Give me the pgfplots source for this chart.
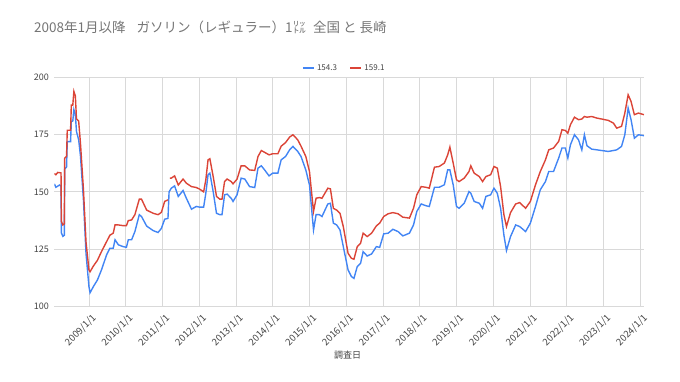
\documentclass[border=0pt]{standalone}
\usepackage{fontspec}
\setmainfont{Noto Sans CJK JP}
\usepackage{pgfplots}
\pgfplotsset{compat=1.18}
\definecolor{gblue}{HTML}{4285F4}
\definecolor{gred}{HTML}{DB4437}
\definecolor{ggrid}{HTML}{D9D9D9}
\definecolor{gtext}{HTML}{444444}
\definecolor{gtitle}{HTML}{757575}
\begin{document}
\begin{tikzpicture}
\path[use as bounding box] (0,0) rectangle (680pt,382pt);
\node[anchor=west, font=\fontsize{13.5}{16}\selectfont, text=gtitle, inner sep=0pt] at (34pt,355pt) {2008年1月以降\hspace{11pt}ガソリン（レギュラー）1㍑\hspace{7pt}全国 と 長崎};
\begin{axis}[
  at={(54.3pt,76pt)}, anchor=south west,
  scale only axis, width=590pt, height=228.3pt,
  xmin=2008.057, xmax=2024.11, ymin=100, ymax=200,
  ytick={100,125,150,175,200},
  xtick={2009,2010,2011,2012,2013,2014,2015,2016,2017,2018,2019,2020,2021,2022,2023,2024},
  xticklabels={2009/1/1,2010/1/1,2011/1/1,2012/1/1,2013/1/1,2014/1/1,2015/1/1,2016/1/1,2017/1/1,2018/1/1,2019/1/1,2020/1/1,2021/1/1,2022/1/1,2023/1/1,2024/1/1},
  axis line style={draw=none},
  major tick length=0pt,
  grid=major, grid style={ggrid, line width=0.8pt},
  tick label style={font=\fontsize{9}{10}\selectfont, text=gtext},
  xticklabel style={font=\fontsize{9.5}{10}\selectfont},
  /pgf/number format/assume math mode=true,
  yticklabel style={xshift=-2pt},
  xticklabel style={xshift=8pt, yshift=-8pt, rotate=45, anchor=east},
  xlabel={調査日},
  xlabel style={font=\fontsize{9}{10}\selectfont, text=gtext, at={(0.497,-0.215)}, anchor=center},
  legend columns=2,
  legend style={at={(0.491,1.042)}, anchor=center, draw=none, fill=none,
    font=\fontsize{8}{10}\selectfont, text=gtext,
    /tikz/every even column/.append style={column sep=10pt}},
  legend image code/.code={\draw[#1, line width=2.5pt] (0pt,0pt) -- (11pt,0pt);},
  unbounded coords=jump,
]
\addplot[gblue, line width=1.4pt] table {
2008.06 153.5
2008.10 152.0
2008.20 153.0
2008.24 152.5
2008.25 132.0
2008.29 130.5
2008.33 131.0
2008.34 160.0
2008.39 160.8
2008.41 172.0
2008.50 172.0
2008.52 180.8
2008.56 181.0
2008.59 186.0
2008.63 183.8
2008.66 176.5
2008.72 172.8
2008.77 165.5
2008.85 146.5
2008.92 123.0
2009.00 108.5
2009.03 105.8
2009.12 108.5
2009.23 111.4
2009.34 115.8
2009.48 122.4
2009.57 125.3
2009.66 125.3
2009.71 129.0
2009.80 126.8
2009.93 126.0
2010.02 125.7
2010.07 129.0
2010.16 129.0
2010.25 132.6
2010.37 140.0
2010.43 139.2
2010.57 135.0
2010.75 133.0
2010.88 132.2
2010.97 134.0
2011.06 138.0
2011.15 138.4
2011.18 150.0
2011.24 151.6
2011.33 152.6
2011.43 148.0
2011.56 150.6
2011.65 147.2
2011.79 142.4
2011.92 143.6
2012.01 143.3
2012.12 143.3
2012.18 149.4
2012.24 157.5
2012.29 158.2
2012.38 150.1
2012.47 140.6
2012.56 140.0
2012.62 140.0
2012.69 148.7
2012.76 149.0
2012.87 147.2
2012.92 145.8
2013.03 148.7
2013.14 156.0
2013.24 155.6
2013.37 152.3
2013.51 151.9
2013.60 160.4
2013.69 161.4
2013.78 159.6
2013.90 157.0
2014.00 158.2
2014.14 158.2
2014.23 164.0
2014.35 165.5
2014.46 168.4
2014.55 169.9
2014.68 167.7
2014.77 165.5
2014.90 159.6
2015.00 153.0
2015.11 133.3
2015.18 140.0
2015.27 140.0
2015.34 139.2
2015.50 144.7
2015.57 145.0
2015.65 136.3
2015.74 135.5
2015.83 133.3
2015.92 126.0
2016.05 115.8
2016.14 112.9
2016.21 112.1
2016.30 117.3
2016.39 118.7
2016.46 123.8
2016.57 121.9
2016.69 122.8
2016.82 126.0
2016.91 125.7
2017.02 131.6
2017.14 131.9
2017.27 133.6
2017.41 132.6
2017.54 130.7
2017.72 131.9
2017.83 135.5
2017.92 141.4
2018.04 144.7
2018.17 143.9
2018.26 143.6
2018.40 152.0
2018.53 152.0
2018.67 153.1
2018.76 159.6
2018.82 159.6
2018.91 153.1
2019.00 143.6
2019.07 142.8
2019.21 145.0
2019.34 150.1
2019.39 149.4
2019.48 145.8
2019.62 145.0
2019.71 142.8
2019.80 148.0
2019.93 148.7
2020.02 151.6
2020.11 149.4
2020.20 142.8
2020.29 131.1
2020.36 124.3
2020.47 130.4
2020.61 135.5
2020.72 134.8
2020.88 132.6
2021.01 136.3
2021.15 143.6
2021.28 150.9
2021.42 154.5
2021.51 158.9
2021.64 158.9
2021.78 164.8
2021.87 169.2
2021.96 169.2
2022.03 164.8
2022.10 170.6
2022.21 175.0
2022.32 172.8
2022.41 168.4
2022.48 175.0
2022.55 170.2
2022.68 168.7
2022.82 168.4
2022.95 168.1
2023.13 167.7
2023.27 168.1
2023.36 168.4
2023.49 169.9
2023.58 175.0
2023.67 186.7
2023.75 181.6
2023.84 173.5
2023.95 175.0
2024.10 174.6
};
\addlegendentry{154.3}
\addplot[gred, line width=1.4pt] table {
2008.06 158.0
2008.10 157.5
2008.15 158.5
2008.24 158.3
2008.25 137.0
2008.29 135.5
2008.33 136.0
2008.34 164.8
2008.39 165.5
2008.41 177.0
2008.50 177.0
2008.52 188.0
2008.56 188.0
2008.59 194.0
2008.63 192.0
2008.66 182.0
2008.72 181.0
2008.77 171.0
2008.85 151.0
2008.92 128.0
2009.00 115.8
2009.03 115.0
2009.12 117.5
2009.23 120.0
2009.34 123.8
2009.48 128.2
2009.57 131.0
2009.66 131.9
2009.71 135.5
2009.80 135.5
2009.93 135.2
2010.02 135.2
2010.07 137.4
2010.16 137.7
2010.25 140.0
2010.37 146.8
2010.43 146.8
2010.57 142.0
2010.75 140.6
2010.88 140.0
2010.97 141.0
2011.06 145.8
2011.15 146.5
2011.17 nan
2011.20 156.0
2011.24 156.0
2011.33 157.0
2011.43 153.0
2011.56 155.6
2011.65 153.8
2011.79 152.3
2011.92 151.9
2012.01 151.2
2012.12 150.0
2012.18 155.3
2012.24 164.0
2012.29 164.5
2012.38 156.7
2012.47 148.0
2012.56 146.8
2012.62 146.8
2012.69 154.5
2012.76 155.6
2012.87 154.5
2012.92 153.5
2013.03 155.6
2013.14 161.4
2013.24 161.4
2013.37 159.6
2013.51 159.4
2013.60 165.5
2013.69 168.1
2013.78 167.3
2013.90 166.2
2014.00 166.7
2014.14 166.7
2014.23 170.0
2014.35 171.6
2014.46 174.0
2014.55 175.0
2014.68 172.8
2014.77 170.0
2014.90 165.5
2015.00 158.9
2015.11 141.4
2015.18 147.2
2015.27 147.5
2015.34 147.2
2015.50 151.6
2015.57 151.3
2015.65 142.8
2015.74 142.0
2015.83 140.6
2015.92 134.8
2016.05 123.1
2016.14 120.9
2016.21 120.5
2016.30 126.0
2016.39 127.5
2016.46 131.9
2016.57 130.4
2016.69 131.9
2016.82 135.1
2016.91 136.3
2017.02 139.2
2017.14 140.4
2017.27 140.9
2017.41 140.4
2017.54 138.9
2017.72 138.5
2017.83 142.8
2017.92 148.7
2018.04 152.3
2018.17 152.0
2018.26 151.6
2018.40 160.8
2018.53 161.1
2018.67 162.6
2018.76 166.2
2018.82 169.6
2018.91 162.6
2019.00 155.3
2019.07 154.5
2019.21 156.0
2019.34 158.9
2019.39 161.4
2019.48 158.2
2019.62 156.7
2019.71 154.5
2019.80 156.7
2019.93 157.5
2020.02 161.1
2020.11 160.4
2020.20 152.3
2020.29 140.0
2020.36 134.8
2020.47 140.9
2020.61 144.7
2020.72 145.3
2020.88 142.8
2021.01 145.8
2021.15 153.1
2021.28 158.9
2021.42 164.0
2021.51 168.4
2021.64 169.2
2021.78 172.1
2021.87 177.2
2021.96 176.9
2022.03 175.7
2022.10 179.4
2022.21 182.7
2022.32 181.6
2022.41 181.9
2022.48 183.0
2022.55 182.7
2022.68 183.0
2022.82 182.3
2022.95 181.9
2023.13 181.3
2023.27 180.1
2023.36 177.9
2023.49 178.7
2023.58 184.5
2023.67 192.5
2023.75 189.6
2023.84 183.8
2023.95 184.5
2024.10 183.8
};
\addlegendentry{159.1}
\end{axis}
\end{tikzpicture}
\end{document}
